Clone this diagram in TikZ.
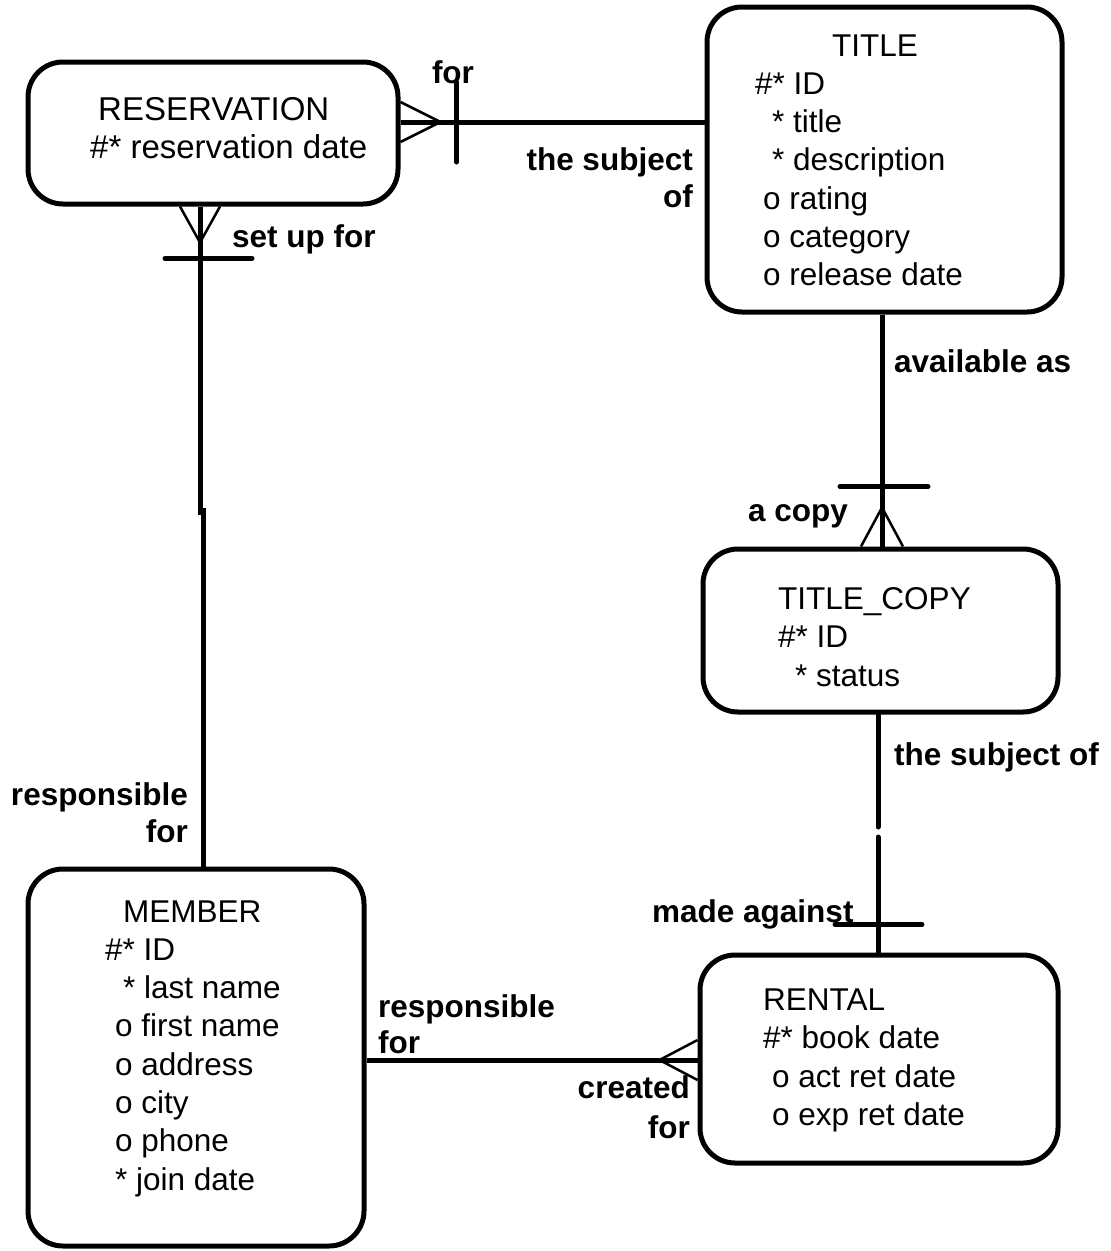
\documentclass[tikz,border=0pt]{standalone}
\usepackage{fontspec}
\setmainfont{Liberation Sans}
\usetikzlibrary{positioning}
\tikzset{entity/.style = {draw, line width=5pt, rounded corners=35pt, inner sep=0pt}}
\tikzset{rel/.style = {line width=5pt}}
\tikzset{bar/.style = {line width=5pt, line cap=round}}
\tikzset{foot/.style = {line width=2.5pt}}
\tikzset{attr/.style = {anchor=base west, inner sep=0pt, font=\fontsize{31.5}{38}\selectfont}}
\tikzset{lbl/.style = {inner sep=0pt, font=\fontsize{31.5}{38}\selectfont\bfseries}}

\begin{document}
\begin{tikzpicture}[x=1pt, y=-1pt]
    \useasboundingbox (0,0) rectangle (1111,1251);

    % entities
    \node [entity, minimum width=370pt, minimum height=142pt] (reservation) at (213,133) {};
    \node [entity, minimum width=355pt, minimum height=305pt] (title) at (884.5,159.5) {};
    \node [entity, minimum width=355pt, minimum height=163pt] (titlecopy) at (880.5,630.5) {};
    \node [entity, minimum width=336pt, minimum height=377pt] (member) at (196,1057.5) {};
    \node [entity, minimum width=358pt, minimum height=208pt] (rental) at (879,1059) {};

    \foreach \txt/\dx [count=\i from 0] in {RESERVATION/8, \#* reservation date/0}
        \node [attr, font=\fontsize{33}{38}\selectfont] (reservation-\i) at (90+\dx, 120+38.3*\i) {\txt};
    \foreach \txt/\dx [count=\i from 0] in {TITLE/77, \#* ID/0, * title/17, * description/17,
                                            o rating/8, o category/8, o release date/8}
        \node [attr] (title-\i) at (755+\dx, 56+38.3*\i) {\txt};
    \foreach \txt/\dx [count=\i from 0] in {TITLE\_COPY/0, \#* ID/0, * status/17}
        \node [attr] (titlecopy-\i) at (778+\dx, 609+38.5*\i) {\txt};
    \foreach \txt/\dx [count=\i from 0] in {MEMBER/18, \#* ID/0, * last name/18, o first name/10,
                                            o address/10, o city/10, o phone/10, * join date/10}
        \node [attr] (member-\i) at (105+\dx, 922+38.3*\i) {\txt};
    \foreach \txt/\dx [count=\i from 0] in {RENTAL/0, \#* book date/0, o act ret date/9, o exp ret date/9}
        \node [attr] (rental-\i) at (763+\dx, 1010+38.5*\i) {\txt};

    % reservation -- title
    \coordinate (rt) at (0,122);
    \draw [rel] (reservation.east |- rt) -- (title.west |- rt);
    \draw [foot] (reservation.east |- rt) ++(0,-20) -- ++(40,20) -- ++(-40,20);
    \draw [bar] (reservation.east |- rt) ++(56,-40) -- ++(0,80);
    \node [lbl, anchor=base] (rt-for) at (453,83) {for};
    \node [lbl, anchor=base east] (rt-subj) at (693,170) {the subject};
    \node [lbl, anchor=base east] (rt-of) at (693,207) {of};

    % reservation -- member
    \coordinate (rmu) at (200,515);
    \coordinate (rml) at (203,508);
    \draw [rel] (reservation.south -| rmu) -- (rmu);
    \draw [rel] (rml) -- (member.north -| rml);
    \draw [foot] (reservation.south -| rmu) ++(-20,0) -- ++(20,36) -- ++(20,-36);
    \draw [bar] (reservation.south -| rmu) ++(-35,52) -- ++(87,0);
    \node [lbl, anchor=base west] (rm-set) at (232,247) {set up for};
    \node [lbl, anchor=base east] (rm-resp) at (188,805) {responsible};
    \node [lbl, anchor=base east] (rm-for) at (188,842) {for};

    % title -- title_copy
    \coordinate (tc) at (882,0);
    \draw [rel] (title.south -| tc) -- (titlecopy.north -| tc);
    \draw [foot] (titlecopy.north -| tc) ++(-21,0) -- ++(21,-39) -- ++(21,39);
    \draw [bar] (titlecopy.north -| tc) ++(-42,-60) -- ++(88,0);
    \node [lbl, anchor=base west] (tc-avail) at (894,372) {available as};
    \node [lbl, anchor=base east] (tc-copy) at (848,521) {a copy};

    % title_copy -- rental
    \coordinate (tru) at (878,827);
    \coordinate (trl) at (878,837);
    \draw [bar] (titlecopy.south -| tru) -- (tru);
    \draw [bar] (trl) -- (rental.north -| trl);
    \draw [bar] (rental.north -| trl) ++(-43,-28) -- ++(87,0);
    \node [lbl, anchor=base west] (tr-subj) at (894,765) {the subject of};
    \node [lbl, anchor=base west] (tr-made) at (652,922) {made against};

    % member -- rental
    \coordinate (mr) at (0,1060);
    \draw [rel] (member.east |- mr) -- (rental.west |- mr);
    \draw [foot] (rental.west |- mr) ++(0,-20) -- ++(-38,20) -- ++(38,20);
    \node [lbl, anchor=base west] (mr-resp) at (378,1017) {responsible};
    \node [lbl, anchor=base west] (mr-for) at (378,1053) {for};
    \node [lbl, anchor=base east] (mr-creat) at (690,1098) {created};
    \node [lbl, anchor=base east] (mr-for2) at (690,1138) {for};
\end{tikzpicture}
\end{document}
